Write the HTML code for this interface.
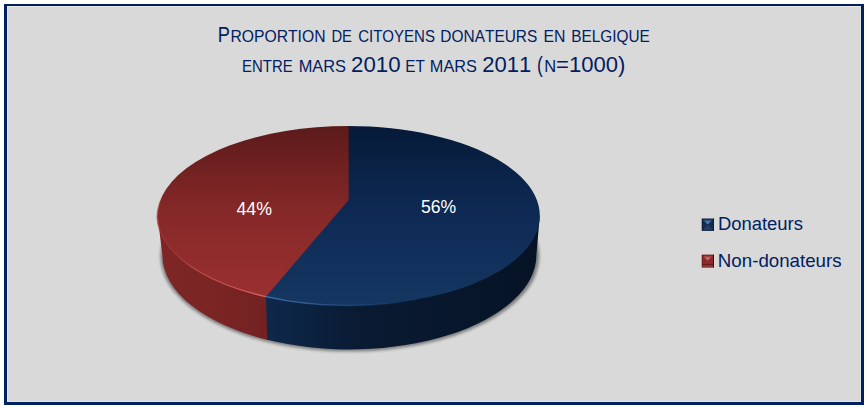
<!DOCTYPE html>
<html><head><meta charset="utf-8">
<style>
html,body{margin:0;padding:0;background:#fff;width:867px;height:408px;overflow:hidden}
#c{position:absolute;left:0;top:0}
text{font-family:"Liberation Sans",sans-serif;font-kerning:none}
</style></head><body>
<svg id="c" width="867" height="408" viewBox="0 0 867 408">
<defs>
  <linearGradient id="rTop" x1="0" y1="126" x2="0" y2="296" gradientUnits="userSpaceOnUse">
    <stop offset="0" stop-color="#5c1a1a"/>
    <stop offset="0.5" stop-color="#862828"/>
    <stop offset="1" stop-color="#9a3030"/>
  </linearGradient>
  <linearGradient id="bTop" x1="0" y1="126" x2="0" y2="303" gradientUnits="userSpaceOnUse">
    <stop offset="0" stop-color="#061a38"/>
    <stop offset="0.5" stop-color="#0e2a54"/>
    <stop offset="1" stop-color="#143661"/>
  </linearGradient>
  <linearGradient id="rSide" x1="157" y1="0" x2="266" y2="0" gradientUnits="userSpaceOnUse">
    <stop offset="0" stop-color="#7e2626"/>
    <stop offset="0.6" stop-color="#7a2424"/>
    <stop offset="1" stop-color="#732121"/>
  </linearGradient>
  <linearGradient id="bSide" x1="266" y1="0" x2="540" y2="0" gradientUnits="userSpaceOnUse">
    <stop offset="0" stop-color="#0e284b"/>
    <stop offset="0.35" stop-color="#091a32"/>
    <stop offset="1" stop-color="#061325"/>
  </linearGradient>
  <filter id="sh" x="-10%" y="-10%" width="120%" height="130%">
    <feGaussianBlur stdDeviation="1.8"/>
  </filter>
  <linearGradient id="rRim" x1="160" y1="0" x2="266" y2="0" gradientUnits="userSpaceOnUse">
    <stop offset="0" stop-color="#c04848" stop-opacity="0"/>
    <stop offset="0.35" stop-color="#c65050" stop-opacity="0.8"/>
    <stop offset="1" stop-color="#d86060" stop-opacity="1"/>
  </linearGradient>
  <linearGradient id="bRim" x1="266" y1="0" x2="420" y2="0" gradientUnits="userSpaceOnUse">
    <stop offset="0" stop-color="#4674ad" stop-opacity="0.95"/>
    <stop offset="0.45" stop-color="#3c68a0" stop-opacity="0.55"/>
    <stop offset="1" stop-color="#2a5080" stop-opacity="0"/>
  </linearGradient>
  <linearGradient id="bTri" x1="0" y1="219.6" x2="0" y2="224.5" gradientUnits="userSpaceOnUse">
    <stop offset="0" stop-color="#1d3d6c"/><stop offset="0.45" stop-color="#5078b0"/><stop offset="1" stop-color="#5a84bc"/>
  </linearGradient>
  <linearGradient id="rTri" x1="0" y1="255.7" x2="0" y2="260.6" gradientUnits="userSpaceOnUse">
    <stop offset="0" stop-color="#8e3030"/><stop offset="0.45" stop-color="#c86464"/><stop offset="1" stop-color="#d87878"/>
  </linearGradient>
  <linearGradient id="lRim" x1="0" y1="196" x2="0" y2="250" gradientUnits="userSpaceOnUse">
    <stop offset="0" stop-color="#a83838" stop-opacity="0"/><stop offset="0.4" stop-color="#a83838" stop-opacity="0.8"/><stop offset="1" stop-color="#a83838" stop-opacity="0.3"/>
  </linearGradient>
</defs>
<!-- frame -->
<rect x="4" y="4" width="860" height="401" fill="#002060"/>
<rect x="7" y="6" width="854" height="396" fill="#e6e6e4"/>
<rect x="8" y="7" width="852.5" height="394" fill="#d9d9d9"/>

<!-- pie -->
<g filter="url(#sh)" opacity="0.42"><ellipse cx="349.9" cy="256.0" rx="189.5" ry="95.60000000000001" fill="#000"/></g>
<path d="M157.50,215.75 L162.40,255.00 A187.0,94.4 0 0 0 268.80,340.18 L268.80,215.75 Z" fill="url(#rSide)"/>
<path d="M265.90,296.65 L267.30,339.82 A187.0,94.4 0 0 0 536.40,255.00 L539.80,215.75 L265.90,215.75 Z" fill="url(#bSide)"/>
<path d="M348.65,126.00 A191.15,89.75 0 0 0 265.90,296.65 L268.90,296.65 L350.10,199.90 L350.15,127.00 Z" fill="url(#rTop)"/>
<path d="M348.65,126.00 A191.15,89.75 0 1 1 265.90,296.65 L348.60,199.90 Z" fill="url(#bTop)"/>
<path d="M161.68,197.09 A191.15,89.75 0 0 0 171.42,249.37" fill="none" stroke="url(#lRim)" stroke-width="1.6"/>
<path d="M162.00,235.11 A191.15,89.75 0 0 0 265.90,296.65" fill="none" stroke="url(#rRim)" stroke-width="1.3"/>
<path d="M265.90,296.65 A191.15,89.75 0 0 0 420.00,299.01" fill="none" stroke="url(#bRim)" stroke-width="1.3"/>
<!-- /pie -->
<!-- legend -->
<rect x="701.5" y="218.3" width="12.5" height="12.8" fill="#f0f0f0" opacity="0.5"/>
<rect x="701.7" y="218.5" width="12.1" height="12.4" fill="#0b1a36"/>
<rect x="702.6" y="219.4" width="10.4" height="10.6" fill="#132c52"/>
<polygon points="702.8,219.6 712.6,219.6 707.7,224.5" fill="url(#bTri)"/>
<polygon points="702.6,230 713,230 707.7,224.6" fill="#1f3e66"/>
<rect x="713" y="218.5" width="0.8" height="12.4" fill="#061020"/>

<rect x="701.5" y="254.4" width="12.5" height="13.4" fill="#f0f0f0" opacity="0.5"/>
<rect x="701.7" y="254.6" width="12.1" height="13" fill="#6a1818"/>
<rect x="702.6" y="255.5" width="10.4" height="11.2" fill="#8a2a2a"/>
<polygon points="702.8,255.7 712.6,255.7 707.7,260.6" fill="url(#rTri)"/>
<rect x="702.6" y="264" width="10.4" height="1.2" fill="#5e1c1c"/>
<rect x="702.6" y="265.2" width="10.4" height="1.6" fill="#9a3434"/>
<rect x="713" y="254.6" width="0.8" height="13" fill="#2a0606"/>
<text transform="translate(217.70,41.8) scale(0.8359,1)" font-size="21.80" fill="#002060">P</text>
<text transform="translate(230.41,41.8) scale(0.9163,1)" font-size="17.15" fill="#002060">ROPORTION</text>
<text transform="translate(331.39,41.8) scale(0.8625,1)" font-size="17.15" fill="#002060">DE</text>
<text transform="translate(358.14,41.8) scale(0.8766,1)" font-size="17.15" fill="#002060">CITOYENS</text>
<text transform="translate(440.33,41.8) scale(0.9015,1)" font-size="17.15" fill="#002060">DONATEURS</text>
<text transform="translate(543.40,41.8) scale(0.9229,1)" font-size="17.15" fill="#002060">EN</text>
<text transform="translate(571.14,41.8) scale(0.8977,1)" font-size="17.15" fill="#002060">BELGIQUE</text>
<text transform="translate(242.08,71.8) scale(0.8849,1)" font-size="16.86" fill="#002060">ENTRE</text>
<text transform="translate(298.65,71.8) scale(0.9730,1)" font-size="16.86" fill="#002060">MARS</text>
<text transform="translate(351.08,71.8) scale(1.0483,1)" font-size="21.22" fill="#002060">2010</text>
<text transform="translate(405.34,71.8) scale(0.9102,1)" font-size="16.86" fill="#002060">ET</text>
<text transform="translate(429.86,71.8) scale(0.9666,1)" font-size="16.86" fill="#002060">MARS</text>
<text transform="translate(482.29,71.8) scale(1.0376,1)" font-size="21.22" fill="#002060">2011</text>
<text transform="translate(537.02,71.8) scale(0.8176,1)" font-size="21.22" fill="#002060">(</text>
<text transform="translate(544.25,71.8) scale(0.9768,1)" font-size="16.86" fill="#002060">N</text>
<text transform="translate(556.02,71.8) scale(1.0402,1)" font-size="21.22" fill="#002060">=1000)</text>
<text transform="translate(717.89,229.5) scale(1.0231,1)" font-size="18.02" fill="#002060">Donateurs</text>
<text transform="translate(717.86,266.7) scale(1.0219,1)" font-size="18.31" fill="#002060">Non-donateurs</text>
<text transform="translate(236.39,215) scale(0.9398,1)" font-size="18.90" fill="#ffffff">44%</text>
<text transform="translate(420.90,213) scale(0.9316,1)" font-size="18.90" fill="#ffffff">56%</text>

</svg>
</body></html>
